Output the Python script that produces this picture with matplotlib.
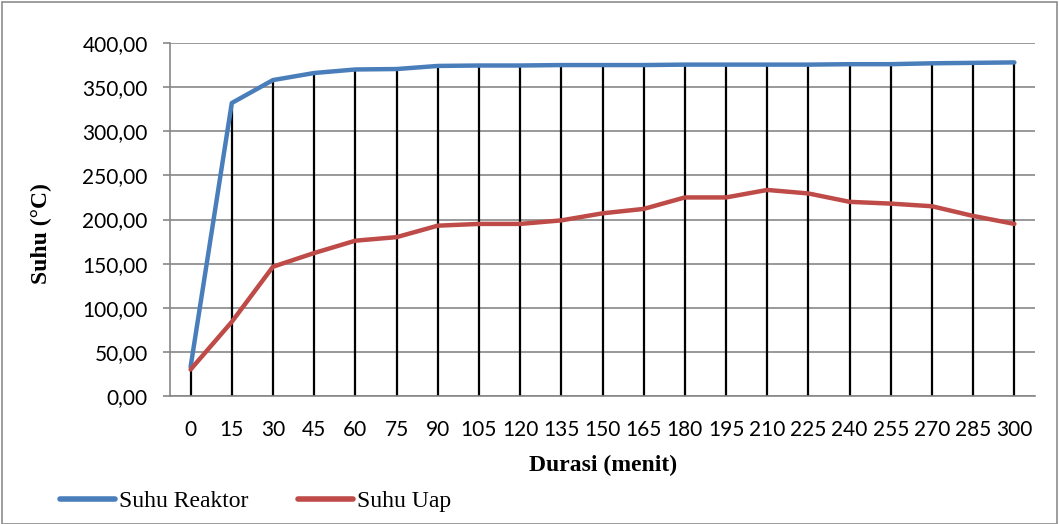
import matplotlib.pyplot as plt
from matplotlib.patches import Rectangle
from matplotlib.ticker import FuncFormatter

# data
durasi = [0, 15, 30, 45, 60, 75, 90, 105, 120, 135, 150, 165, 180, 195, 210,
          225, 240, 255, 270, 285, 300]
suhu_reaktor = [33, 332, 358, 366, 370, 370.5, 374, 374.5, 374.5, 375, 375,
                375, 375.5, 375.5, 375.5, 375.5, 376, 376, 377, 377.5, 378]
suhu_uap = [30, 84, 146.5, 162, 176, 180, 193, 195, 195, 199, 207, 212, 225,
            225, 233.5, 229.5, 220, 218, 215, 204, 195]

BLUE = '#4A7EBB'
RED = '#BE4B48'
GRID = '#878787'
W, H = 1059, 524

fig = plt.figure(figsize=(W / 100, H / 100), dpi=100)
ax = fig.add_axes([170 / W, 1 - 396 / H, (1035 - 170) / W, (396 - 43) / H])

xs = list(range(len(durasi)))
# black drop lines from top series down to the axis
ax.vlines(xs, 0, [max(a, b) for a, b in zip(suhu_reaktor, suhu_uap)],
          colors='black', lw=1.6, zorder=2)
ax.plot(xs, suhu_reaktor, color=BLUE, lw=3.2, solid_capstyle='round', zorder=3,
        label='Suhu Reaktor')
ax.plot(xs, suhu_uap, color=RED, lw=3.2, solid_capstyle='round', zorder=3,
        label='Suhu Uap')

ax.set_xlim(-0.5, len(durasi) - 0.5)
ax.set_ylim(0, 400)
ax.set_yticks(range(0, 401, 50))
ax.yaxis.set_major_formatter(FuncFormatter(lambda v, p: f'{v:.2f}'.replace('.', ',')))
ax.set_xticks(xs)
ax.set_xticklabels([str(d) for d in durasi])
ax.grid(axis='y', color=GRID, lw=1.2, zorder=1)
ax.set_axisbelow(True)

for s in ['top', 'right']:
    ax.spines[s].set_visible(False)
for s in ['left', 'bottom']:
    ax.spines[s].set_color(GRID)
    ax.spines[s].set_linewidth(1.2)

ax.tick_params(axis='y', length=5, color=GRID, width=1.2, labelsize=15, pad=11)
ax.tick_params(axis='x', length=0, labelsize=15, pad=17)
for lab in ax.get_xticklabels() + ax.get_yticklabels():
    lab.set_family('Lato')

ax.set_xlabel('Durasi (menit)', family='Liberation Serif', fontweight='bold',
              fontsize=17, va='center')
ax.xaxis.set_label_coords((603 - 170) / 865, (396 - 465) / 353)
ax.set_ylabel('Suhu (°C)', family='Liberation Serif', fontweight='bold',
              fontsize=17, va='center')
ax.yaxis.set_label_coords((41 - 170) / 865, (396 - 234) / 353)

leg = fig.legend(loc='center left', bbox_to_anchor=(60 / W, (H - 501) / H), ncol=2,
                 frameon=False, handlelength=2.33, handletextpad=0.17,
                 columnspacing=2.1, borderpad=0, borderaxespad=0,
                 prop={'family': 'Liberation Serif', 'size': 17})
for h in leg.legend_handles:
    h.set_linewidth(4)

fig.patches.append(Rectangle((2 / W, 0.0), 1 - 4 / W, 1 - 2 / H,
                             transform=fig.transFigure, fill=False,
                             edgecolor='#8c8c8c', lw=1.2))

fig.savefig('out.png', dpi=100)
